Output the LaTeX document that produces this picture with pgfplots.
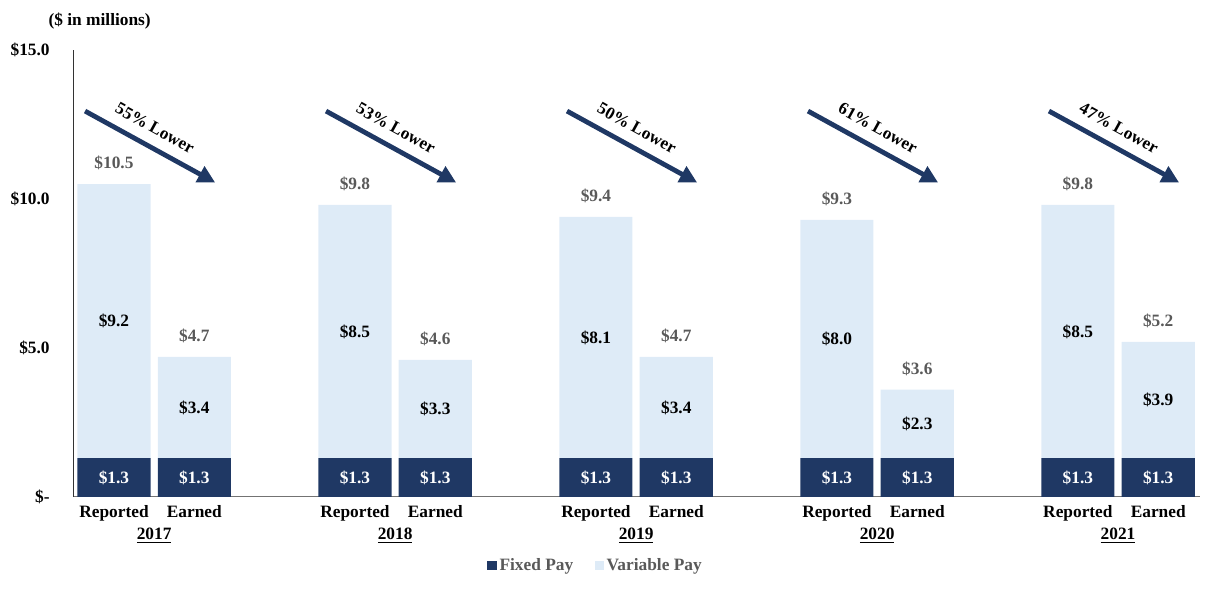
\documentclass[border=0pt]{standalone}
\usepackage{fontspec}
\setmainfont{Liberation Serif}
\usepackage{pgfplots}
\pgfplotsset{compat=1.18}
\usepackage{pgfplotstable}
\usetikzlibrary{arrows.meta,calc}
\definecolor{fixedc}{HTML}{1F3864}
\definecolor{varc}{HTML}{DEEBF7}
\definecolor{lblgray}{HTML}{595959}
\newcommand\lf{\fontsize{13pt}{15pt}\selectfont\bfseries}
\pgfplotstableread{
x fixed var
0 1.3 9.2
1 1.3 3.4
3 1.3 8.5
4 1.3 3.3
6 1.3 8.1
7 1.3 3.4
9 1.3 8.0
10 1.3 2.3
12 1.3 8.5
13 1.3 3.9
}\datatable
\tikzset{arr/.style={fixedc, line width=3.6pt, -{Triangle[length=13pt,width=13pt]}},
  pct/.style={font=\lf, rotate=-29}}
\begin{document}
\begin{tikzpicture}
\begin{axis}[
  name=ax,
  scale only axis,
  width=845pt, height=335pt,
  xmin=-0.51, xmax=13.52,
  ymin=0, ymax=15,
  ybar stacked,
  bar width=0.91,
  clip=false,
  axis x line*=bottom,
  axis y line*=left,
  x axis line style={draw=black!55, line width=0.8pt, -},
  y axis line style={draw=black!80, line width=0.6pt, -},
  major tick length=0pt,
  xtick={0,1,3,4,6,7,9,10,12,13},
  xticklabels={Reported,Earned,Reported,Earned,Reported,Earned,Reported,Earned,Reported,Earned},
  xticklabel style={font=\lf, text=black, yshift=-3pt},
  ytick={0,5,10,15},
  yticklabels={\$-,\$5.0,\$10.0,\$15.0},
  yticklabel style={font=\lf, text=black, xshift=-14pt},
  legend image code/.code={\fill[#1] (0pt,-3.5pt) rectangle (7pt,3.5pt);},
  legend style={at={(0.464,-0.154)}, anchor=center, draw=none, fill=none,
    legend columns=2, font=\lf, text=lblgray,
    /tikz/every even column/.append style={column sep=14pt}},
]
\addplot[fill=fixedc, draw=none] table[x=x, y=fixed] {\datatable};
\addlegendentry{Fixed Pay}
\addplot[fill=varc, draw=none] table[x=x, y=var] {\datatable};
\addlegendentry{Variable Pay}

\coordinate (bl) at (rel axis cs:0,0);
\coordinate (tr) at (rel axis cs:1,1);

% label anchors (drawn after the axis so they sit on top of the bars)
\coordinate (f0) at (axis cs:0,0.65);
\coordinate (f1) at (axis cs:1,0.65);
\coordinate (f3) at (axis cs:3,0.65);
\coordinate (f4) at (axis cs:4,0.65);
\coordinate (f6) at (axis cs:6,0.65);
\coordinate (f7) at (axis cs:7,0.65);
\coordinate (f9) at (axis cs:9,0.65);
\coordinate (f10) at (axis cs:10,0.65);
\coordinate (f12) at (axis cs:12,0.65);
\coordinate (f13) at (axis cs:13,0.65);
\coordinate (v0) at (axis cs:0,5.9);
\coordinate (v1) at (axis cs:1,3.0);
\coordinate (v3) at (axis cs:3,5.55);
\coordinate (v4) at (axis cs:4,2.95);
\coordinate (v6) at (axis cs:6,5.35);
\coordinate (v7) at (axis cs:7,3.0);
\coordinate (v9) at (axis cs:9,5.3);
\coordinate (v10) at (axis cs:10,2.45);
\coordinate (v12) at (axis cs:12,5.55);
\coordinate (v13) at (axis cs:13,3.25);
% totals
\node[font=\lf, text=lblgray] at (axis cs:0,11.2) {\$10.5};
\node[font=\lf, text=lblgray] at (axis cs:1,5.4) {\$4.7};
\node[font=\lf, text=lblgray] at (axis cs:3,10.5) {\$9.8};
\node[font=\lf, text=lblgray] at (axis cs:4,5.3) {\$4.6};
\node[font=\lf, text=lblgray] at (axis cs:6,10.1) {\$9.4};
\node[font=\lf, text=lblgray] at (axis cs:7,5.4) {\$4.7};
\node[font=\lf, text=lblgray] at (axis cs:9,10.0) {\$9.3};
\node[font=\lf, text=lblgray] at (axis cs:10,4.3) {\$3.6};
\node[font=\lf, text=lblgray] at (axis cs:12,10.5) {\$9.8};
\node[font=\lf, text=lblgray] at (axis cs:13,5.9) {\$5.2};
% years
\node[font=\lf] at (axis cs:0.5,0) [yshift=-29pt] {\underline{2017}};
\node[font=\lf] at (axis cs:3.5,0) [yshift=-29pt] {\underline{2018}};
\node[font=\lf] at (axis cs:6.5,0) [yshift=-29pt] {\underline{2019}};
\node[font=\lf] at (axis cs:9.5,0) [yshift=-29pt] {\underline{2020}};
\node[font=\lf] at (axis cs:12.5,0) [yshift=-29pt] {\underline{2021}};
% arrows
\draw[arr] (axis cs:-0.36,12.95) -- (axis cs:1.26,10.55);
\node[pct] at (axis cs:0.51,12.38) {55\% Lower};
\draw[arr] (axis cs:2.64,12.95) -- (axis cs:4.26,10.55);
\node[pct] at (axis cs:3.51,12.38) {53\% Lower};
\draw[arr] (axis cs:5.64,12.95) -- (axis cs:7.26,10.55);
\node[pct] at (axis cs:6.51,12.38) {50\% Lower};
\draw[arr] (axis cs:8.64,12.95) -- (axis cs:10.26,10.55);
\node[pct] at (axis cs:9.51,12.38) {61\% Lower};
\draw[arr] (axis cs:11.64,12.95) -- (axis cs:13.26,10.55);
\node[pct] at (axis cs:12.51,12.38) {47\% Lower};
\node[font=\lf] at (rel axis cs:0,1) [xshift=20pt, yshift=22pt] {(\$ in millions)};
\end{axis}
\foreach \c in {f0,f1,f3,f4,f6,f7,f9,f10,f12,f13}
  \node[font=\lf, text=white] at (\c) {\$1.3};
\node[font=\lf] at (v0) {\$9.2};
\node[font=\lf] at (v1) {\$3.4};
\node[font=\lf] at (v3) {\$8.5};
\node[font=\lf] at (v4) {\$3.3};
\node[font=\lf] at (v6) {\$8.1};
\node[font=\lf] at (v7) {\$3.4};
\node[font=\lf] at (v9) {\$8.0};
\node[font=\lf] at (v10) {\$2.3};
\node[font=\lf] at (v12) {\$8.5};
\node[font=\lf] at (v13) {\$3.9};
\pgfresetboundingbox
\path ($(bl)+(-54.75pt,-71.25pt)$) rectangle ($(tr)+(18pt,37.5pt)$);
\end{tikzpicture}
\end{document}
